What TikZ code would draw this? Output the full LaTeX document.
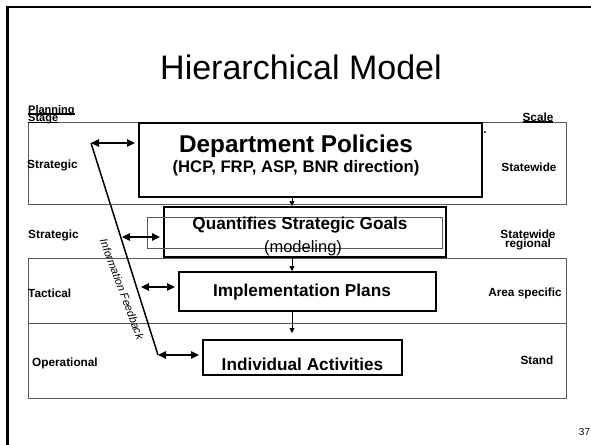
\documentclass[tikz,border=0pt]{standalone}
\usepackage{fontspec}
\setmainfont{Liberation Sans}
\usetikzlibrary{arrows.meta}
% underline drawn as a solid bar under the text
\newcommand\ulbar[1]{\setbox0\hbox{#1}\rlap{\rule[-1.7pt]{\wd0}{1.4pt}}\box0}

\begin{document}
\begin{tikzpicture}[x=1pt,y=-1pt,
  band/.style={draw=black!65,line width=0.9pt},
  tier/.style={draw=black,line width=2pt,inner sep=0pt},
  thinbox/.style={draw=black!65,line width=0.9pt,inner sep=0pt},
  side/.style={font=\fontsize{11.8}{12}\selectfont\bfseries,inner sep=0pt},
  boxtext/.style={font=\fontsize{17.2}{18}\selectfont\bfseries,inner sep=0pt,anchor=base},
  dbl/.style={line width=1.6pt,{Triangle[length=8pt,width=7.5pt]}-{Triangle[length=8pt,width=7.5pt]},shorten >=3pt},
  down/.style={line width=0.8pt,-{Triangle[length=5pt,width=5pt]}},
  feedback/.style={line width=1.5pt}]
\useasboundingbox (0,0) rectangle (591,444);
\clip (0,0) rectangle (591,444);

% slide frame
\draw[line width=2.5pt] (7.5,460) -- (7.5,7) -- (600,7);

% title
\node[anchor=base,inner sep=0pt,font=\fontsize{34}{36}\selectfont] (title) at (301,79) {Hierarchical Model};

% planning-stage bands
\draw[band] (28,122) rectangle (566,204);
\draw[band] (28,258) rectangle (566,323);
\draw[band] (28,323) rectangle (566,398);

% column headings
\node[side,anchor=base west,font=\fontsize{11}{11}\selectfont\bfseries] (plan) at (28,113) {\ulbar{Planning}};
\node[side,anchor=base west,font=\fontsize{11}{11}\selectfont\bfseries] (stage) at (28,121.5) {\ulbar{Stage}};
\node[side,anchor=base] (scale) at (538,121) {\ulbar{Scale}};
\node[side,anchor=base] (dot) at (485,133) {.};

% tier boxes
\node[tier,minimum width=343pt,minimum height=74pt] (dp) at (310.5,160) {};
\node[tier,minimum width=282pt,minimum height=50pt] (qs) at (305,232) {};
\node[thinbox,minimum width=295pt,minimum height=31pt] (qsin) at (294.5,232.5) {};
\node[tier,minimum width=257pt,minimum height=39pt] (ip) at (307.5,291.5) {};
\node[tier,minimum width=199pt,minimum height=35pt] (ia) at (302.5,357.5) {};

% tier texts
\node[boxtext,font=\fontsize{24.3}{26}\selectfont\bfseries] (dpT) at (296,152) {Department Policies};
\node[boxtext,font=\fontsize{16.7}{18}\selectfont\bfseries] (dpS) at (296,172) {(HCP, FRP, ASP, BNR direction)};
\node[boxtext] (qsT) at (300,229) {Quantifies Strategic Goals};
\node[boxtext,font=\fontsize{16.5}{18}\selectfont] (qsS) at (303,252) {(modeling)};
\node[boxtext] (ipT) at (302,296) {Implementation Plans};
\node[boxtext] (iaT) at (302.5,370) {Individual Activities};

% stage labels
\node[side,anchor=base west] (s1) at (27,168) {Strategic};
\node[side,anchor=base west] (s2) at (28,238) {Strategic};
\node[side,anchor=base west] (s3) at (28,297) {Tactical};
\node[side,anchor=base west] (s4) at (32,366) {Operational};

% scale labels
\node[side,anchor=base] (c1) at (529,171) {Statewide};
\node[side,anchor=base] (c2) at (528,238) {Statewide};
\node[side,anchor=base] (c2b) at (528,247) {regional};
\node[side,anchor=base] (c3) at (525,296) {Area specific};
\node[side,anchor=base] (c4) at (537,364) {Stand};

% downward flow between tiers
\coordinate (ax) at (292,0);
\draw[down] (dp.south -| ax) -- (qs.north -| ax);
\draw[down] (qs.south -| ax) -- (ip.north -| ax);
\draw[down,shorten >=6pt] (ip.south -| ax) -- (ia.north -| ax);

% information feedback line and links
\coordinate (fb1) at (91,143);
\coordinate (fb2) at (122,237);
\coordinate (fb3) at (141,287);
\coordinate (fb4) at (158,355);
\draw[feedback] (fb1) -- (fb4);
\draw[dbl] (fb1) -- (fb1 -| dp.west);
\draw[dbl] (fb2) -- (fb2 -| qs.west);
\draw[dbl] (fb3) -- (fb3 -| ip.west);
\draw[dbl] (fb4) -- (fb4 -| ia.west);
\node[inner sep=0pt,rotate=-69.5,font=\fontsize{11}{12}\selectfont\itshape] (fbT) at (122,289) {Information Feedback};

% page number
\node[anchor=base,inner sep=0pt,font=\fontsize{10}{11}\selectfont] (pg) at (584.5,435) {37};
\end{tikzpicture}
\end{document}
